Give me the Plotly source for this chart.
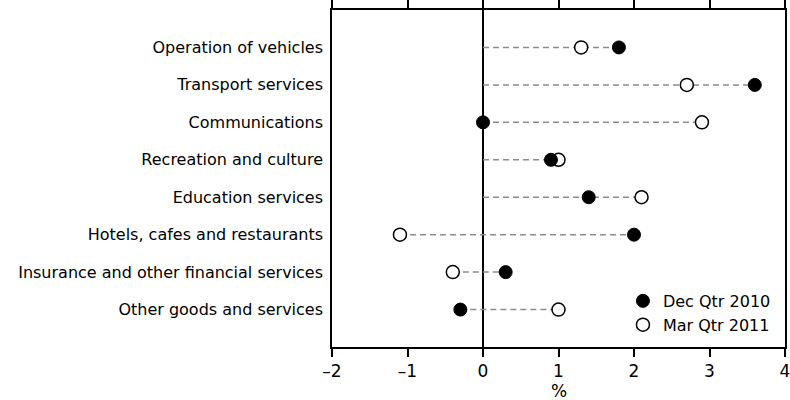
import plotly.graph_objects as go

categories = ["Operation of vehicles", "Transport services", "Communications",
              "Recreation and culture", "Education services",
              "Hotels, cafes and restaurants",
              "Insurance and other financial services",
              "Other goods and services"]
dec_2010 = [1.8, 3.6, 0.0, 0.9, 1.4, 2.0, 0.3, -0.3]
mar_2011 = [1.3, 2.7, 2.9, 1.0, 2.1, -1.1, -0.4, 1.0]
x_tickvals = [-2, -1, 0, 1, 2, 3, 4]
x_ticktext = ["\u20132", "\u20131", "0", "1", "2", "3", "4"]

FONT = "DejaVu Sans"
fig = go.Figure()

for cat, d, m in zip(categories, dec_2010, mar_2011):
    lo = min(0, d, m)
    hi = max(0, d, m)
    fig.add_trace(go.Scatter(x=[lo, hi], y=[cat, cat], mode="lines",
                             line=dict(color="#8c8c8c", width=1.5, dash="6px,4px"),
                             showlegend=False, hoverinfo="skip"))

fig.add_trace(go.Scatter(x=mar_2011, y=categories, mode="markers", name="Mar Qtr 2011",
                         marker=dict(symbol="circle", size=13, color="white",
                                     line=dict(color="black", width=1.5))))
fig.add_trace(go.Scatter(x=dec_2010, y=categories, mode="markers", name="Dec Qtr 2010",
                         marker=dict(symbol="circle", size=13, color="black",
                                     line=dict(color="black", width=1))))

fig.add_annotation(text="%", x=0.5, y=0, xref="paper", yref="paper",
                   xanchor="center", yanchor="top", yshift=-32, showarrow=False,
                   font=dict(size=17))

fig.update_layout(
    width=790, height=400,
    margin=dict(l=332, r=5, t=10, b=53),
    paper_bgcolor="white", plot_bgcolor="white",
    font=dict(family=FONT, size=16, color="black"),
    legend=dict(x=0.98, xanchor="right", y=0.015, yanchor="bottom",
                traceorder="reversed", bgcolor="rgba(0,0,0,0)",
                font=dict(size=16), itemwidth=30, tracegroupgap=0),
    xaxis=dict(range=[-2, 4], tickvals=x_tickvals, ticktext=x_ticktext,
               showgrid=False, zeroline=True, zerolinecolor="black", zerolinewidth=1.5,
               showline=True, linecolor="black", linewidth=1.5, mirror="allticks",
               ticks="outside", ticklen=8, tickcolor="black", tickwidth=1.5,
               tickfont=dict(size=17), automargin=False, ticklabeloverflow="allow"),
    yaxis=dict(type="category", categoryorder="array", categoryarray=categories,
               range=[8, -1], showgrid=False, zeroline=False,
               showline=True, linecolor="black", linewidth=1.5, mirror=True,
               ticks="", ticklabelstandoff=4, tickfont=dict(size=16),
               automargin=False),
)

fig.write_html("out.html", config={"displayModeBar": False},
               post_script="document.body.style.margin='0';")
